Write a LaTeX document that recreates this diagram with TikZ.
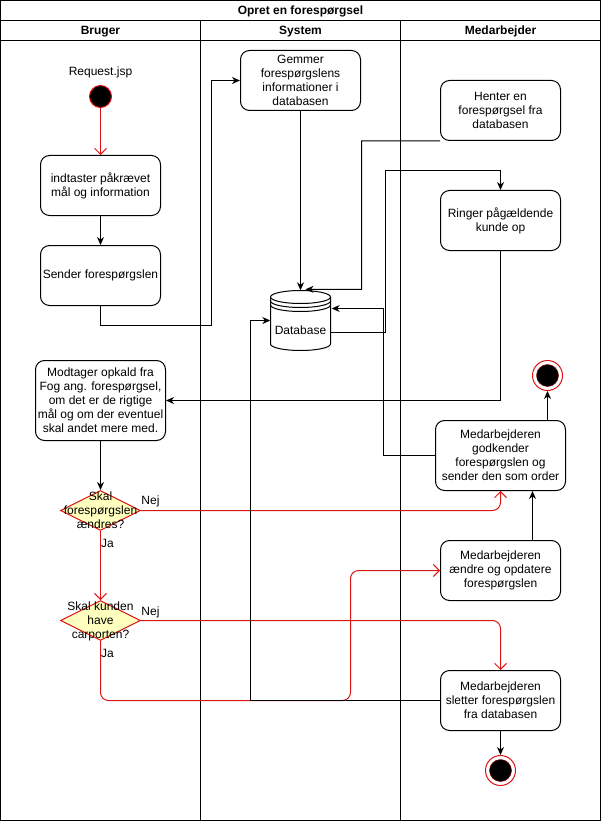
\documentclass[tikz,border=0pt]{standalone}
\usepackage{fontspec}
\setmainfont{Liberation Sans}
\usetikzlibrary{arrows.meta,shapes.geometric,calc}
\definecolor{flowred}{RGB}{220,20,20}
\definecolor{decfill}{RGB}{255,255,192}
\begin{document}
\begin{tikzpicture}[x=1pt,y=-1pt,
  every node/.style={font=\fontsize{12}{14}\selectfont, inner sep=0pt},
  act/.style={draw, line width=1pt, rounded corners=9pt, minimum width=120pt, minimum height=60pt, align=center},
  decision/.style={diamond, draw=flowred, fill=decfill, line width=1pt, minimum width=80pt, minimum height=40pt, inner sep=0pt},
  flow/.style={line width=1pt, -{Stealth[length=8pt,width=7pt,inset=2.5pt]}},
  redflow/.style={line width=1pt, draw=flowred, rounded corners=8pt, -{Straight Barb[length=6pt,width=12pt]}},
  lanehead/.style={font=\fontsize{12}{14}\selectfont\bfseries},
  initial/.style={circle, fill=black, draw=flowred, line width=1pt, minimum size=22pt},
  final/.style={circle, draw=flowred, line width=1pt, minimum size=30pt},
]
\useasboundingbox (-0.5,-0.5) rectangle (600.5,820.5);

% swimlane frame
\draw[line width=1pt] (0,0) rectangle (600,820);
\draw[line width=1pt] (0,20) -- (600,20);
\draw[line width=1pt] (0,40) -- (600,40);
\draw[line width=1pt] (200,20) -- (200,820);
\draw[line width=1pt] (400,20) -- (400,820);
\node[lanehead] (title) at (300,11) {Opret en forespørgsel};
\node[lanehead] (laneA) at (100,31) {Bruger};
\node[lanehead] (laneB) at (300,31) {System};
\node[lanehead] (laneC) at (500,31) {Medarbejder};

% Bruger lane
\node (jsp) at (100,72) {Request.jsp};
\node[initial] (start) at (100,96) {};
\node[act] (indtast) at (100,185) {indtaster påkrævet\\mål og information};
\node[act] (sender) at (100,275) {Sender forespørgslen};
\node[act, minimum width=130pt, minimum height=80pt] (modtager) at (100,400)
  {Modtager opkald fra\\Fog ang. forespørgsel,\\om det er de rigtige\\mål og om der eventuel\\skal andet mere med.};
\node[decision] (d1) at (100,510) {};
\node[align=center] (d1text) at (100,510) {Skal\\forespørgslen\\ændres?};
\node[decision] (d2) at (100,620) {};
\node[align=center] (d2text) at (100,621) {Skal kunden\\have\\carporten?};

% System lane
\node[act] (gemmer) at (300,80) {Gemmer\\forespørgslens\\informationer i\\databasen};
\node[minimum width=60pt, minimum height=60pt] (db) at (300,320) {};
\draw[line width=1pt, fill=white] (270,296.5) -- (270,343.5)
  arc[start angle=180, end angle=360, x radius=30pt, y radius=6.5pt] -- (330,296.5);
\draw[line width=1pt, fill=white] (300,296.5) ellipse[x radius=30pt, y radius=6.5pt];
\draw[line width=1pt] (270,300.5) arc[start angle=180, end angle=360, x radius=30pt, y radius=6.5pt];
\draw[line width=1pt] (270,304.5) arc[start angle=180, end angle=360, x radius=30pt, y radius=6.5pt];
\node (dblabel) at (300,330) {Database};

% Medarbejder lane
\node[act] (henter) at (500,110) {Henter en\\forespørgsel fra\\databasen};
\node[act] (ringer) at (500,220) {Ringer pågældende\\kunde op};
\node[act, minimum width=130pt, minimum height=70pt] (godkend) at (500,455)
  {Medarbejderen\\godkender\\forespørgslen og\\sender den som order};
\node[act] (aendre) at (500,570) {Medarbejderen\\ændre og opdatere\\forespørgslen};
\node[act] (sletter) at (500,700) {Medarbejderen\\sletter forespørgslen\\fra databasen};
\node[final] (end1) at (547,375) {};
\fill[black, draw=flowred!60!black, line width=0.5pt] (end1) circle[radius=11pt];
\node[final] (end2) at (500,770) {};
\fill[black, draw=flowred!60!black, line width=0.5pt] (end2) circle[radius=11pt];

% red decision flows
\draw[redflow] (start) -- (indtast);
\draw[redflow] (d1.east) -| (godkend.south);
\draw[redflow] (d1.south) -- (d2.north);
\draw[redflow] (d2.east) -| (sletter.north);
\draw[redflow] (d2.south) |- (350,700) |- (aendre.west);

% black flows
\draw[flow] (indtast) -- (sender);
\draw[flow] (sender.south) |- (211,325) |- (gemmer.west);
\draw[flow] (gemmer.south) -- (db.north);
\draw[flow] (henter.south west) -| (361,289) -- ($(db.north)+(5,-1)$);
\draw[flow] ($(db.east)+(0,12)$) -| (385,170) -| (ringer.north);
\draw[flow] (godkend.west) -| (383,308) -- ($(db.east)+(1,-12)$);
\draw[flow] (ringer.south) |- (modtager.east);
\draw[flow] (modtager.south) -- (d1.north);
\draw[flow] ($(aendre.north)+(32,0)$) -- ($(godkend.south)+(32,0)$);
\draw[flow] (end1 |- godkend.north) -- (end1.south);
\draw[flow] (sletter.west) -| (250,320) -- (db.west);
\draw[flow] (sletter.south) -- (end2.north);

% branch labels
\node (nej1) at (150,501) {Nej};
\node (ja1) at (107,543) {Ja};
\node (nej2) at (150,612) {Nej};
\node (ja2) at (107,653) {Ja};
\end{tikzpicture}
\end{document}
